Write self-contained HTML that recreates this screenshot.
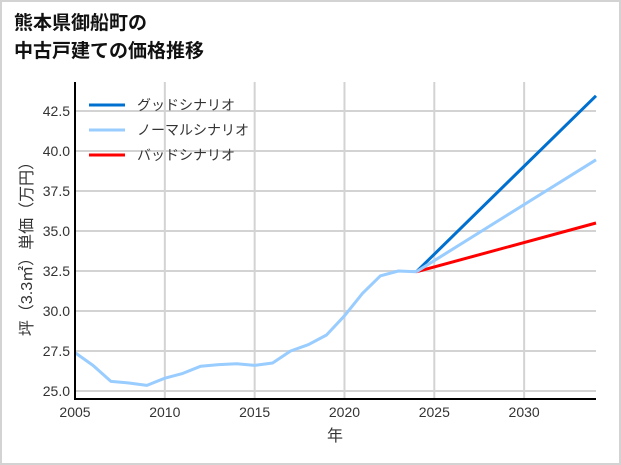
<!DOCTYPE html>
<html><head><meta charset="utf-8"><style>
body{margin:0;background:#fff;}
#wrap{position:relative;width:617px;height:461px;border:2px solid #d3d3d3;background:#fff;overflow:hidden;}
.t{font-family:"Liberation Sans","Noto Sans CJK JP",sans-serif;}
</style></head><body>
<div id="wrap">
<svg id="svg" width="617" height="461" xmlns="http://www.w3.org/2000/svg">
<text class="t" x="12" y="27" font-size="19" font-weight="bold" fill="#111">熊本県御船町の</text>
<text class="t" x="12" y="55" font-size="19" font-weight="bold" fill="#111">中古戸建ての価格推移</text>
<g id="grid"></g><g id="lines"></g><g id="axes"></g>
</svg>
</div>
<script>
const histYears=[2005,2006,2007,2008,2009,2010,2011,2012,2013,2014,2015,2016,2017,2018,2019,2020,2021,2022,2023,2024];
const histValues=[27.4,26.6,25.6,25.5,25.35,25.8,26.1,26.55,26.65,26.7,26.6,26.75,27.5,27.9,28.5,29.7,31.1,32.2,32.5,32.45];
const projYears=[2024,2034];
const goodValues=[32.45,43.45];
const normalValues=[32.45,39.45];
const badValues=[32.45,35.5];
const xTicks=[2005,2010,2015,2020,2025,2030];
const yTicks=[25.0,27.5,30.0,32.5,35.0,37.5,40.0,42.5];
const ox=-2,oy=-2;
const X0=75,X1=596,Y0=399,Ytop=82;
function sx(v){return X0+(v-2005)*(X1-X0)/(2034-2005)+ox;}
function sy(v){return 391-(v-25)*16+oy;}
const NS="http://www.w3.org/2000/svg";
function mk(tag,attrs,parent){const e=document.createElementNS(NS,tag);for(const k in attrs)e.setAttribute(k,attrs[k]);parent.appendChild(e);return e;}
const grid=document.getElementById('grid'),lines=document.getElementById('lines'),axes=document.getElementById('axes');
xTicks.forEach(t=>{const l=mk('line',{x1:sx(t),x2:sx(t),y1:Ytop+oy,y2:Y0+oy,stroke:'#d3d3d3','stroke-width':2},grid);


const tx=mk('text',{x:sx(t),y:Y0+oy+18,'text-anchor':'middle','font-size':14,fill:'#333',class:'t'},axes);tx.textContent=t;

});
yTicks.forEach(t=>{const l=mk('line',{x1:X0+ox,x2:X1+ox,y1:sy(t),y2:sy(t),stroke:'#d3d3d3','stroke-width':2},grid);


const tx=mk('text',{x:X0+ox-5,y:sy(t)+5,'text-anchor':'end','font-size':14,fill:'#333',class:'t'},axes);tx.textContent=t.toFixed(1);

});
function series(xs,ys,color,name){const p=mk('polyline',{points:xs.map((x,i)=>sx(x)+','+sy(ys[i])).join(' '),fill:'none',stroke:color,'stroke-width':3,'stroke-linejoin':'round'},lines);

}
series(projYears,goodValues,'#0070d0','good-scenario-line');
series(projYears,badValues,'#ff0000','bad-scenario-line');
series(projYears,normalValues,'#99ccff','normal-scenario-line');
series(histYears,histValues,'#99ccff','historical-line');
const ax1=mk('line',{x1:X0+ox,x2:X0+ox,y1:Ytop+oy,y2:Y0+oy+1,stroke:'#000','stroke-width':2},axes);


const ax2=mk('line',{x1:X0+ox-1,x2:X1+ox,y1:Y0+oy,y2:Y0+oy,stroke:'#000','stroke-width':2},axes);


const xt=mk('text',{x:335+ox,y:441+oy,'text-anchor':'middle','font-size':16,fill:'#333',class:'t'},axes);xt.textContent='年';


const yt=mk('text',{x:0,y:0,'text-anchor':'middle','font-size':16,fill:'#333',class:'t',transform:'translate(30,'+(245+oy)+') rotate(-90)'},axes);yt.textContent='坪（3.3㎡）単価（万円）';


const legendNames=['グッドシナリオ','ノーマルシナリオ','バッドシナリオ'];
const legendColors=['#0070d0','#99ccff','#ff0000'];
legendNames.forEach((n,i)=>{const y=105+i*25+oy;
const l=mk('line',{x1:89+ox,x2:125+ox,y1:y,y2:y,stroke:legendColors[i],'stroke-width':3},axes);


const tx=mk('text',{x:137+ox,y:y+5,'font-size':14,fill:'#333',class:'t'},axes);tx.textContent=n;

});
</script>
</body></html>
